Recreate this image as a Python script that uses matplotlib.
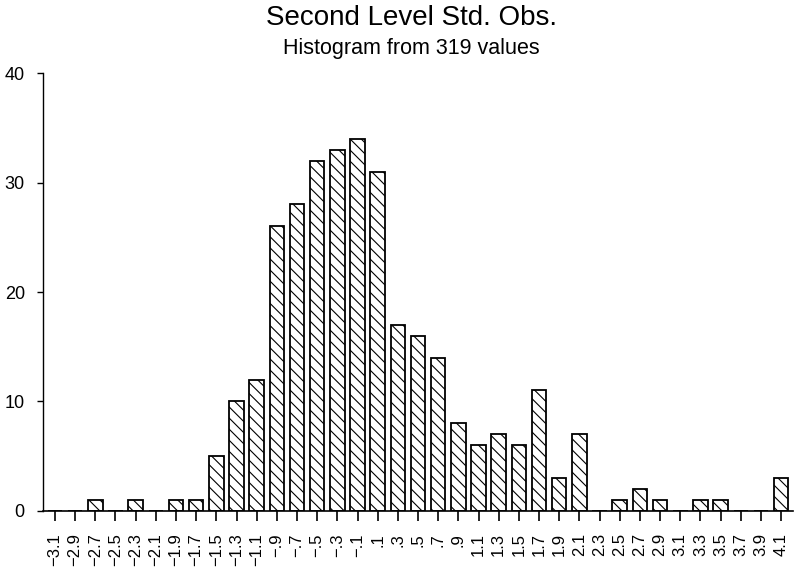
import matplotlib
matplotlib.use("Agg")
import matplotlib.pyplot as plt
import numpy as np

# bin centres and counts
bin_labels = [
    "\u22123.1", "\u22122.9", "\u22122.7", "\u22122.5", "\u22122.3", "\u22122.1",
    "\u22121.9", "\u22121.7", "\u22121.5", "\u22121.3", "\u22121.1",
    "\u2212.9", "\u2212.7", "\u2212.5", "\u2212.3", "\u2212.1",
    ".1", ".3", ".5", ".7", ".9",
    "1.1", "1.3", "1.5", "1.7", "1.9", "2.1", "2.3", "2.5", "2.7", "2.9",
    "3.1", "3.3", "3.5", "3.7", "3.9", "4.1",
]
counts = [
    0, 0, 1, 0, 1, 0,
    1, 1, 5, 10, 12,
    26, 28, 32, 33, 34,
    31, 17, 16, 14, 8,
    6, 7, 6, 11, 3, 7, 0, 1, 2, 1,
    0, 1, 1, 0, 0, 3,
]
y_ticks = [0, 10, 20, 30, 40]

plt.rcParams["font.family"] = ["Liberation Sans", "DejaVu Sans"]
plt.rcParams["hatch.linewidth"] = 0.8

fig = plt.figure(figsize=(7.94, 5.67), dpi=100)
ax = fig.add_axes([0.054, 0.099, 0.945, 0.772])

x = np.arange(len(counts))
ax.bar(x, counts, width=0.72, facecolor="white", edgecolor="black",
       linewidth=1.3, hatch="\\\\\\")

ax.set_xlim(-0.6, len(counts) - 0.4)
ax.set_ylim(0, 40)
ax.set_yticks(y_ticks)
ax.set_xticks(x)
ax.set_xticklabels(bin_labels, rotation=90, fontsize=12)
ax.tick_params(axis="y", direction="out", length=4, width=1, labelsize=13, pad=9)
ax.tick_params(axis="x", direction="out", length=7, width=1.2, pad=9)

for side in ("top", "right"):
    ax.spines[side].set_visible(False)
ax.spines["left"].set_linewidth(1.0)
ax.spines["bottom"].set_linewidth(1.2)

fig.text(0.518, 0.968, "Second Level Std. Obs.", ha="center", va="center",
         fontsize=20)
fig.text(0.518, 0.914, "Histogram from 319 values", ha="center", va="center",
         fontsize=15.5)

fig.savefig("out.png", dpi=100)
